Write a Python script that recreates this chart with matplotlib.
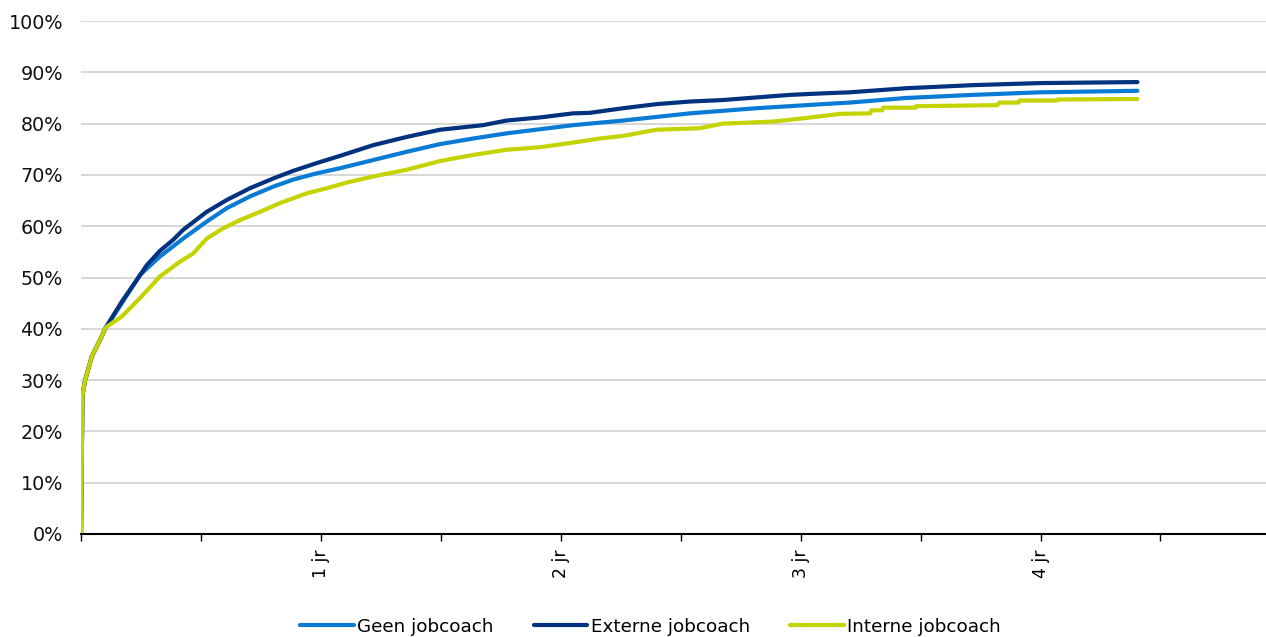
import matplotlib.pyplot as plt
from matplotlib.ticker import FuncFormatter, MultipleLocator

# tijd in jaren, aandeel in %
t_geen = [0, 0.006, 0.017, 0.045, 0.086, 0.10, 0.17, 0.246, 0.329, 0.426, 0.524, 0.607,
          0.704, 0.801, 0.885, 0.982, 1.079, 1.218, 1.357, 1.496, 1.635, 1.774, 1.913,
          2.051, 2.26, 2.399, 2.538, 2.676, 2.815, 2.954, 3.093, 3.204, 3.44, 3.718,
          3.996, 4.404]
geen = [0, 27, 30, 34.6, 38.5, 40, 45, 50.5, 54.1, 57.6, 60.9, 63.5,
        65.8, 67.7, 69.1, 70.3, 71.3, 72.9, 74.5, 76.0, 77.1, 78.1, 78.9,
        79.7, 80.6, 81.3, 82.0, 82.5, 83.0, 83.4, 83.8, 84.1, 85.0, 85.6,
        86.1, 86.4]

t_extern = [0, 0.006, 0.017, 0.045, 0.086, 0.10, 0.17, 0.232, 0.274, 0.329, 0.383, 0.426,
            0.524, 0.607, 0.704, 0.801, 0.885, 0.982, 1.079, 1.218, 1.357, 1.496, 1.676,
            1.774, 1.913, 2.051, 2.121, 2.26, 2.399, 2.538, 2.676, 2.815, 2.954, 3.093,
            3.204, 3.44, 3.718, 3.996, 4.404]
extern = [0, 27, 30, 34.6, 38.5, 40, 45.3, 49.5, 52.4, 55.2, 57.3, 59.3,
          62.8, 65.1, 67.4, 69.3, 70.8, 72.3, 73.7, 75.8, 77.4, 78.8, 79.7,
          80.6, 81.2, 82.0, 82.1, 83.0, 83.8, 84.3, 84.6, 85.1, 85.6, 85.9,
          86.1, 86.9, 87.5, 87.9, 88.1]

t_intern = [0, 0.006, 0.017, 0.045, 0.086, 0.10, 0.107, 0.17, 0.246, 0.329, 0.413, 0.468,
            0.524, 0.593, 0.663, 0.746, 0.829, 0.94, 1.024, 1.107, 1.218, 1.357, 1.496,
            1.635, 1.774, 1.913, 2.051, 2.163, 2.26, 2.399, 2.579, 2.676, 2.885, 3.024,
            3.163, 3.29, 3.295, 3.34, 3.343, 3.478, 3.482, 3.82, 3.829, 3.908, 3.913,
            4.066, 4.071, 4.404]
intern = [0, 27, 30, 34.6, 38.5, 40, 40.4, 42.4, 46, 50.2, 53.1, 54.7,
          57.6, 59.6, 61.2, 62.8, 64.5, 66.4, 67.4, 68.5, 69.7, 71.0, 72.7,
          73.9, 74.9, 75.4, 76.3, 77.1, 77.6, 78.8, 79.1, 80.0, 80.4, 81.1,
          81.9, 82.0, 82.6, 82.6, 83.1, 83.1, 83.4, 83.6, 84.1, 84.1, 84.5,
          84.5, 84.7, 84.8]

labels = ['Geen jobcoach', 'Externe jobcoach', 'Interne jobcoach']
colors = ['#0a7bd4', '#00327f', '#c5d300']

plt.rcParams['font.family'] = ['DejaVu Sans']
plt.rcParams['font.size'] = 13

fig = plt.figure(figsize=(12.66, 6.37), dpi=100)
ax = fig.add_axes([0.064, 0.1617, 0.936, 0.8053])

ax.yaxis.grid(True, color='#d4d4d4', linewidth=1.3)
ax.set_axisbelow(True)

for t, v, lab, c in zip([t_geen, t_extern, t_intern], [geen, extern, intern], labels, colors):
    ax.plot(t, [x / 100 for x in v], color=c, lw=3, label=lab,
            solid_capstyle='round', solid_joinstyle='round')

ax.set_xlim(0, 4.94)
ax.set_ylim(0, 1)
ax.yaxis.set_major_locator(MultipleLocator(0.1))
ax.yaxis.set_major_formatter(FuncFormatter(lambda v, p: f'{v * 100:.0f}%'))
ax.tick_params(axis='y', length=0, pad=13, labelsize=13.8, labelcolor='#111111')

ax.xaxis.set_major_locator(MultipleLocator(0.5))
ax.xaxis.set_major_formatter(FuncFormatter(
    lambda v, p: f'{int(round(v))} jr' if abs(v - round(v)) < 1e-6 and 0 < v < 4.6 else ''))
ax.tick_params(axis='x', direction='out', length=5, width=1, pad=6, labelrotation=90,
               labelsize=12.5)

for s in ['top', 'right', 'left']:
    ax.spines[s].set_visible(False)
ax.spines['bottom'].set_linewidth(1.5)

fig.legend(loc='center', bbox_to_anchor=(0.514, 0.016), ncol=3, frameon=False,
           handlelength=2.9, handletextpad=0.2, columnspacing=2.2, fontsize=13.2)

fig.savefig('out.png', dpi=100)
